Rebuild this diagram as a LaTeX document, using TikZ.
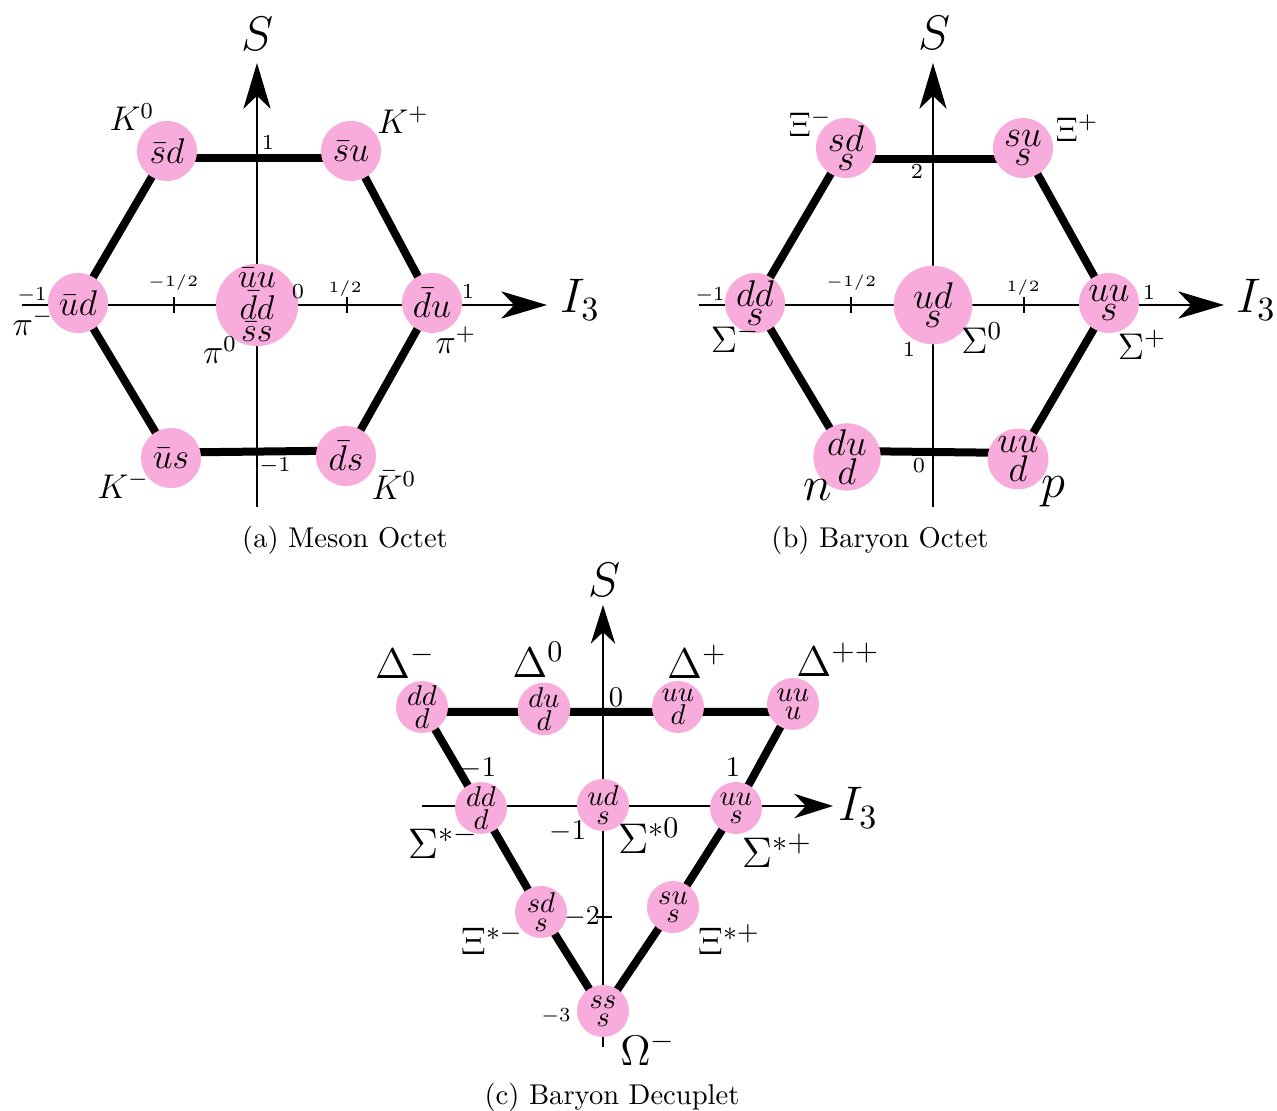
\RequirePackage{fix-cm}
\documentclass[tikz,border=0pt]{standalone}
\usepackage{graphicx}
\usetikzlibrary{arrows.meta,backgrounds}
\definecolor{qpink}{RGB}{248,172,220}
\newcommand{\myfs}[2]{\fontsize{#1}{#2}\selectfont}
\begin{document}
\begin{tikzpicture}[x=0.35pt,y=-0.35pt,
  axarrow/.style={line width=0.9pt,-{Stealth[length=16pt,width=9.5pt,inset=4.5pt]}},
  axarrowc/.style={line width=0.9pt,-{Stealth[length=13.5pt,width=8.5pt,inset=4pt]}},
  hexedge/.style={line width=2.8pt},
  tickmark/.style={line width=0.9pt},
  qk/.style={circle,fill=qpink,inner sep=0pt,minimum size=21pt,align=center,font=\myfs{13}{6.8}},
  qkbig/.style={qk,minimum size=27.5pt},
  qkm/.style={qk,font=\myfs{12.5}{7.8}},
  qkdec/.style={qk,minimum size=18.2pt,font=\myfs{10}{6.4}},
  lbl/.style={inner sep=0pt},
  axlbl/.style={inner sep=0pt,font=\myfs{17}{20}},
  captext/.style={inner sep=0pt,font=\myfs{10}{12}}
]
\useasboundingbox (0,0) rectangle (1277,1111);

% ================= (a) Meson Octet =================
\coordinate (aL) at (22,305);
\coordinate (aR) at (547,305);
\coordinate (aB) at (257,507);
\coordinate (aT) at (257,63);
\node[qkm] (K0) at (167,151) {$\bar sd$};
\node[qkm] (Kp) at (351,151) {$\bar su$};
\node[qkm] (pim) at (78,303) {$\bar ud$};
\node[qkbig,font=\myfs{12}{7.8}] (c0) at (257,305) {$\bar uu$\\$\bar dd$\\$\bar ss$};
\node[qkm] (pip) at (432,303) {$\bar du$};
\node[qkm] (Km) at (171,458) {$\bar us$};
\node[qkm] (K0b) at (346,456) {$\bar ds$};
\begin{scope}[on background layer]
  \draw[axarrow] (aL) -- (aR);
  \draw[axarrow] (aB) -- (aT);
  \draw[hexedge] ([yshift=-2.4pt]K0.center) -- ([yshift=-2.4pt]Kp.center);
  \draw[hexedge] (Kp.center) -- (pip.center) -- (K0b.center);
  \draw[hexedge] ([yshift=1.9pt]K0b.center) -- ([yshift=1.9pt]Km.center);
  \draw[hexedge] (Km.center) -- (pim.center) -- (K0.center);
\end{scope}
\draw[tickmark] (174,297) -- (174,313);
\draw[tickmark] (347,297) -- (347,313);
\node[axlbl] (aS) at (258,34) {$S$};
\node[axlbl] (aI) at (580,300) {$I_3$};
\node[lbl,font=\myfs{7.5}{9}] (at1) at (268,143) {$1$};
\node[lbl,font=\myfs{7.5}{9}] (atm1) at (275,466) {$-1$};
\node[lbl,font=\myfs{7.5}{9}] (at0) at (298,292) {$0$};
\node[lbl,font=\myfs{5.5}{6}] (ath) at (345,289) {$1/2$};
\node[lbl,font=\myfs{5.5}{6}] (atmh) at (173,283) {$-1/2$};
\node[lbl,font=\myfs{7}{8}] (atl) at (32,295) {$-1$};
\node[lbl,font=\myfs{7.5}{9}] (atr) at (468,292) {$1$};
\node[lbl,font=\myfs{12}{14}] (lK0) at (132,117) {$K^0$};
\node[lbl,font=\myfs{12}{14}] (lKp) at (403,120) {$K^+$};
\node[lbl,font=\myfs{12}{14}] (lpim) at (33,322) {$\pi^-$};
\node[lbl,font=\myfs{12}{14}] (lpi0) at (220,350) {$\pi^0$};
\node[lbl,font=\myfs{12}{14}] (lpip) at (456,340) {$\pi^+$};
\node[lbl,font=\myfs{12}{14}] (lKm) at (123,485) {$K^-$};
\node[lbl,font=\myfs{12}{14}] (lK0b) at (394,485) {$\bar K^0$};
\node[captext] (capa) at (345,540) {(a) Meson Octet};

% ================= (b) Baryon Octet =================
\coordinate (bL) at (699,305);
\coordinate (bR) at (1224,305);
\coordinate (bB) at (933,507);
\coordinate (bT) at (933,63);
\node[qk] (Xim) at (846,148) {$sd$\\$s$};
\node[qk] (Xip) at (1023,148) {$su$\\$s$};
\node[qk] (Sgm) at (755,303) {$dd$\\$s$};
\node[qkbig] (Sg0) at (933,305) {$ud$\\$s$};
\node[qk] (Sgp) at (1109,303) {$uu$\\$s$};
\node[qk] (nn) at (847,457) {$du$\\$d$};
\node[qk] (pp) at (1018,459) {$uu$\\$d$};
\begin{scope}[on background layer]
  \draw[axarrow] (bL) -- (bR);
  \draw[axarrow] (bB) -- (bT);
  \draw[hexedge] ([yshift=-3.8pt]Xim.center) -- ([yshift=-3.8pt]Xip.center);
  \draw[hexedge] (Xip.center) -- (Sgp.center) -- (pp.center);
  \draw[hexedge] ([yshift=2.1pt]pp.center) -- ([yshift=2.1pt]nn.center);
  \draw[hexedge] (nn.center) -- (Sgm.center) -- (Xim.center);
\end{scope}
\draw[tickmark] (851,297) -- (851,313);
\draw[tickmark] (1024,297) -- (1024,313);
\node[axlbl] (bS) at (935,33) {$S$};
\node[axlbl] (bI) at (1256,300) {$I_3$};
\node[lbl,font=\myfs{7.5}{9}] (bt2) at (917,172) {$2$};
\node[lbl,font=\myfs{7.5}{9}] (bt1) at (909,350) {$1$};
\node[lbl,font=\myfs{7.5}{9}] (bt0) at (919,466) {$0$};
\node[lbl,font=\myfs{5.5}{6}] (bth) at (1023,288) {$1/2$};
\node[lbl,font=\myfs{5.5}{6}] (btmh) at (851,283) {$-1/2$};
\node[lbl,font=\myfs{7}{8}] (btl) at (710,295) {$-1$};
\node[lbl,font=\myfs{7.5}{9}] (btr) at (1149,293) {$1$};
\node[lbl,font=\myfs{12}{14}] (lXim) at (810,123) {$\Xi^-$};
\node[lbl,font=\myfs{12}{14}] (lXip) at (1077,128) {$\Xi^+$};
\node[lbl,font=\myfs{13}{15}] (lSgm) at (735,338) {$\Sigma^-$};
\node[lbl,font=\myfs{13}{15}] (lSg0) at (982,338) {$\Sigma^0$};
\node[lbl,font=\myfs{13}{15}] (lSgp) at (1142,345) {$\Sigma^+$};
\node[lbl,font=\myfs{17}{19}] (lnn) at (818,490) {$n$};
\node[lbl,font=\myfs{17}{19}] (lpp) at (1053,492) {$p$};
\node[captext] (capb) at (880,540) {(b) Baryon Octet};

% ================= (c) Baryon Decuplet =================
\coordinate (cL) at (422,806);
\coordinate (cR) at (833,806);
\coordinate (cB) at (603,1047);
\coordinate (cT) at (603,605);
\node[qkdec] (Dm) at (422,707) {$dd$\\$d$};
\node[qkdec] (D0) at (544,709) {$du$\\$d$};
\node[qkdec] (Dp) at (678,707) {$uu$\\$d$};
\node[qkdec] (Dpp) at (793,704) {$uu$\\$u$};
\node[qkdec] (Ssm) at (481,808) {$dd$\\$d$};
\node[qkdec] (Ss0) at (603,805) {$ud$\\$s$};
\node[qkdec] (Ssp) at (736,808) {$uu$\\$s$};
\node[qkdec] (Xsm) at (541,912) {$sd$\\$s$};
\node[qkdec] (Xsp) at (673,907) {$su$\\$s$};
\node[qkdec] (Om) at (603,1011) {$ss$\\$s$};
\begin{scope}[on background layer]
  \draw[axarrowc] (cL) -- (cR);
  \draw[axarrowc] (cB) -- (cT);
  \draw[hexedge] ([yshift=-1.75pt]Dm.center) -- ([yshift=-2.8pt]Dpp.center);
  \draw[hexedge] (Dm.center) -- (Ssm.center) -- (Xsm.center) -- (Om.center);
  \draw[hexedge] (Om.center) -- (Xsp.center) -- (Ssp.center) -- (Dpp.center);
\end{scope}
\draw[tickmark] (596,917) -- (612,917);
\node[axlbl] (cS) at (605,580) {$S$};
\node[axlbl] (cI) at (858,808) {$I_3$};
\node[lbl,font=\myfs{10}{11}] (ct0) at (616,697) {$0$};
\node[lbl,font=\myfs{10}{11}] (ctm1a) at (478,768) {$-1$};
\node[lbl,font=\myfs{10}{11}] (ct1) at (733,767) {$1$};
\node[lbl,font=\myfs{10}{11}] (ctm1b) at (568,831) {$-1$};
\node[lbl,font=\myfs{9.5}{11}] (ctm2) at (582,917) {$-2$};
\node[lbl,font=\myfs{7}{8}] (ctm3) at (556,1016) {$-3$};
\node[lbl,font=\myfs{15}{17}] (lDm) at (405,662) {$\Delta^-$};
\node[lbl,font=\myfs{15}{17}] (lD0) at (538,660) {$\Delta^0$};
\node[lbl,font=\myfs{15}{17}] (lDp) at (697,662) {$\Delta^+$};
\node[lbl,font=\myfs{15}{17}] (lDpp) at (838,660) {$\Delta^{++}$};
\node[lbl,font=\myfs{15}{17}] (lSsm) at (443,842) {$\Sigma^{*-}$};
\node[lbl,font=\myfs{15}{17}] (lSs0) at (649,836) {$\Sigma^{*0}$};
\node[lbl,font=\myfs{15}{17}] (lSsp) at (777,851) {$\Sigma^{*+}$};
\node[lbl,font=\myfs{13.5}{16}] (lXsm) at (492,940) {$\Xi^{*-}$};
\node[lbl,font=\myfs{13.5}{16}] (lXsp) at (729,940) {$\Xi^{*+}$};
\node[lbl,font=\myfs{15}{17}] (lOm) at (648,1049) {$\Omega^-$};
\node[captext] (capc) at (612,1097) {(c) Baryon Decuplet};
\end{tikzpicture}
\end{document}
